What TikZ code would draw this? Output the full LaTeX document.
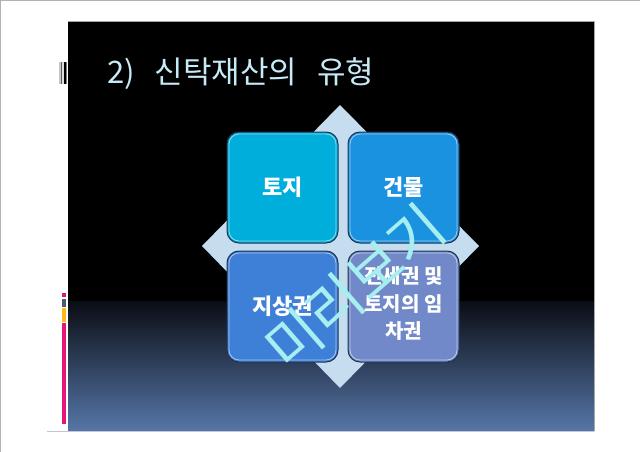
\documentclass[tikz,border=0pt]{standalone}
\usepackage{fontspec}
\setmainfont{Noto Sans CJK KR}
\usetikzlibrary{positioning}

\definecolor{titlecyan}{HTML}{C6EAF6}
\definecolor{diamondfill}{HTML}{C5DDEF}
\definecolor{tilea}{HTML}{00AEDC}
\definecolor{tileb}{HTML}{1A92E0}
\definecolor{tilec}{HTML}{3E80D8}
\definecolor{tiled}{HTML}{7189C8}
\definecolor{tileline}{HTML}{1E3550}
\definecolor{bandtop}{HTML}{0A0D14}
\definecolor{bandbot}{HTML}{5676A8}
\definecolor{barpink}{HTML}{E5157C}
\definecolor{bargray}{HTML}{4B5B72}
\definecolor{barorange}{HTML}{FDB813}
\definecolor{wmcyan}{HTML}{A6EEF0}

\begin{document}
\begin{tikzpicture}[x=1pt, y=-1pt,
  tile/.style = {shape = rectangle, rounded corners = 12pt, minimum width = 111pt, minimum height = 111pt,
    draw = tileline, line width = 1pt, text = white, align = center, inner sep = 0pt,
    font = \bfseries\fontsize{22}{26}\selectfont},
  hilite/.style = {draw = white, opacity = .55, line width = .8pt, rounded corners = 10pt},
  wmtext/.style = {text = wmcyan, font = \fontsize{58}{62}\selectfont, inner sep = 0pt}]
\useasboundingbox (0,0) rectangle (640,452);
\fill[white] (0,0) rectangle (640,452);
\draw[gray!60, line width = 1.2pt] (0.6,452) -- (0.6,0.6) -- (640,0.6);
% slide
\fill[black] (68,21) rectangle (594,431);
\shade[top color = bandtop, bottom color = bandbot] (68,301) rectangle (594,431);
\draw[gray!70, line width = .6pt] (68,21) -- (594,21) -- (594,431);
\draw[blue!15!gray!40, line width = 1.2pt] (47,431.6) -- (594,431.6);
% side marks
\fill[gray!45] (59,62) rectangle (60.5,84);
\fill[gray!75!black] (60.5,62) rectangle (62,84);
\fill[gray!25] (62,62) rectangle (63.5,84);
\fill[black] (63.5,62) rectangle (65.5,84);
\fill[gray] (65.5,62) rectangle (67,84);
\fill[barpink] (62,293) rectangle (66,297);
\fill[bargray] (62,299) rectangle (66,307);
\fill[barorange] (62,308) rectangle (66,322);
\fill[barpink] (62,323) rectangle (66,424);
% title
\node[anchor = west, text = titlecyan, font = \fontsize{31}{35}\selectfont, inner sep = 0pt] (title) at (107,74)
  {2)\hspace{20pt}신탁재산의\hspace{20pt}유형};
% diamond behind the tiles
\fill[diamondfill] (340,105) -- (479,246) -- (340,388) -- (202,246) -- cycle;
\node[tile, fill = tilea] (toji) at (282.5,187.5) {토지};
\node[tile, fill = tileb, right = 9pt of toji] (geonmul) {건물};
\node[tile, fill = tilec, below = 7pt of toji] (jisang) {지상권};
\node[tile, fill = tiled, below = 7pt of geonmul, font = \bfseries\fontsize{20}{24}\selectfont] (jeonse)
  {\begin{tabular}{@{}c@{}}전세권 및\\[3.5pt]토지의 임\\[3.5pt]차권\end{tabular}};
\foreach \t in {toji,geonmul,jisang,jeonse}
  \draw[hilite] ([shift={(2.5pt,-2.5pt)}]\t.north west) rectangle ([shift={(-2.5pt,2.5pt)}]\t.south east);
% watermark
\node[wmtext, rotate = 41] (wm) at (355,287) {미리보기};
\end{tikzpicture}
\end{document}
